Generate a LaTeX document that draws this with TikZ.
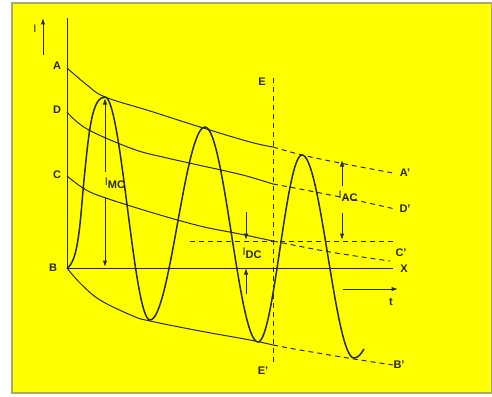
\documentclass[tikz,border=0pt]{standalone}
\usepackage{fontspec}
\setmainfont{Liberation Sans}
\usetikzlibrary{arrows.meta}
\definecolor{inkc}{RGB}{40,40,10}
\definecolor{bgyel}{RGB}{255,255,0}
\definecolor{framec}{RGB}{170,170,100}
\begin{document}
\begin{tikzpicture}[x=1pt,y=-1pt,
  ink/.style={draw=inkc, line width=1pt},
  wave/.style={draw=inkc, line width=1.5pt, line join=round},
  dsh/.style={draw=inkc, line width=1pt, dash pattern=on 5pt off 4pt},
  lbl/.style={font=\bfseries\fontsize{11}{13}\selectfont, text=inkc, inner sep=0pt},
  arr/.style={draw=inkc, line width=1pt, -{Latex[length=6.5pt,width=4.5pt]}},
]
\useasboundingbox (0,0) rectangle (492,396);
\fill[white] (0,0) rectangle (492,396);
\filldraw[fill=bgyel, draw=framec, line width=1.5pt] (12,3) rectangle (491.5,393);

% key points
\coordinate (O) at (67,268);
\coordinate (ytop) at (67,18);
\coordinate (xend) at (393,268);
\coordinate (pk1) at (105,98);
\coordinate (ac1) at (342,160);
\coordinate (cl) at (342,240);
\coordinate (dc1) at (246,240);
\coordinate (dc2) at (246,268);
\coordinate (base1) at (105,267);

% axes
\draw[ink] (ytop) -- (O) -- (xend);

% labels
\node[lbl, font=\mdseries\fontsize{11}{13}\selectfont] (lI) at (35,29) {I};
\coordinate (iarrS) at (43,55);
\coordinate (iarrE) at (43,18);
\draw[arr] (iarrS) -- (iarrE);
\node[lbl] (lA) at (57,66) {A};
\node[lbl] (lD) at (57,110) {D};
\node[lbl] (lC) at (57,175) {C};
\node[lbl] (lB) at (53,268) {B};
\node[lbl] (lE) at (262,82) {E};
\node[lbl] (lE2) at (263,371) {E'};
\node[lbl] (lA2) at (405,173) {A'};
\node[lbl] (lD2) at (405,209) {D'};
\node[lbl] (lC2) at (401,253) {C'};
\node[lbl] (lX) at (404,269) {X};
\node[lbl] (lB2) at (399,365) {B'};
\node[lbl] (lt) at (391,302) {t};

% envelope curves
\draw[ink] plot[smooth, tension=0.6] coordinates {(67,68) (87,85) (105,97) (150,111) (200,127) (250,142) (273,147)};
\draw[dsh] plot[smooth, tension=0.6] coordinates {(273,147) (302,155) (340,163) (393,173)};
\draw[ink] plot[smooth, tension=0.6] coordinates {(67,112) (87,129) (133,149) (167,158) (230,172) (250,177) (273,184)};
\draw[dsh] plot[smooth, tension=0.6] coordinates {(273,184) (300,189) (350,199) (395,209)};
\draw[ink] plot[smooth, tension=0.6] coordinates {(67,176) (83,188) (100,196) (150,212) (200,226) (240,234) (273,241)};
\draw[dsh] plot[smooth, tension=0.6] coordinates {(273,241) (330,252) (390,261)};
\draw[ink] plot[smooth, tension=0.6] coordinates {(67,268) (80,283) (100,300) (133,316) (150,321) (200,331) (250,340) (273,345)};
\draw[dsh] plot[smooth, tension=0.6] coordinates {(273,345) (300,350) (354,359) (393,365)};

% horizontal dashed level and E line
\draw[dsh] (190,241) -- (393,241);
\draw[dsh] (273,78) -- (273,363);

% wave
\draw[wave] (67,268) .. controls (79,262) and (80.5,215) .. (84,180)
  .. controls (89,130) and (92,97) .. (105,97)
  .. controls (121.4,97) and (133.6,320) .. (150,320)
  .. controls (170,320) and (185,127) .. (205,127)
  .. controls (224.3,127) and (238.7,342) .. (258,342)
  .. controls (274,342) and (286,155) .. (302,155)
  .. controls (320.9,155) and (335.1,358) .. (354,358)
  .. controls (358,358) and (361,354) .. (364,349);

% I_MC
\node[lbl] (imc) at (115,183) {{\mdseries I}\raisebox{-3pt}{MC}};
\coordinate (imcT) at (105,172);
\coordinate (imcB) at (105,197);
\draw[arr] (imcT) -- (pk1);
\draw[arr] (imcB) -- (base1);

% I_AC
\node[lbl] (iac) at (348,196) {{\mdseries I}\raisebox{-3pt}{AC}};
\coordinate (iacT) at (342,186);
\coordinate (iacB) at (342,213);
\draw[arr] (iacT) -- (ac1);
\draw[arr] (iacB) -- (cl);

% I_DC
\node[lbl] (idc) at (252,253) {{\mdseries I}\raisebox{-3pt}{DC}};
\coordinate (idcT) at (246,212);
\coordinate (idcB) at (246,294);
\draw[arr] (idcT) -- (dc1);
\draw[arr] (idcB) -- (dc2);

% t arrow
\coordinate (tS) at (343,289);
\coordinate (tE) at (398,289);
\draw[arr] (tS) -- (tE);
\end{tikzpicture}
\end{document}
